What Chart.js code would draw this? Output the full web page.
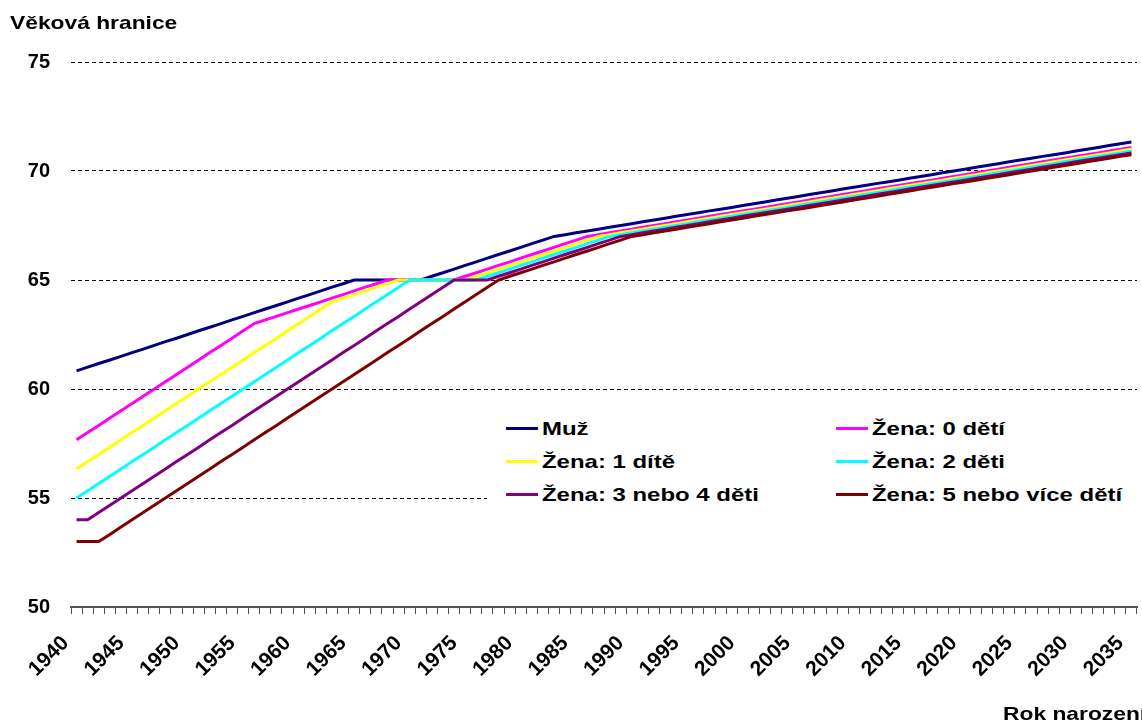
<!DOCTYPE html>
<html>
<head>
<meta charset="utf-8">
<script src="https://cdn.jsdelivr.net/npm/chart.js@4.4.1/dist/chart.umd.min.js"></script>
<style>
  html, body { margin: 0; padding: 0; background: #fff; overflow: hidden; }
  #obal { position: relative; width: 1142px; height: 722px; overflow: hidden; }
  #grafVek { position: absolute; left: 0; top: 0; }
  .popis { position: absolute; font-family: "Liberation Sans", Arial, sans-serif; font-weight: bold;
           font-size: 19px; line-height: 19px; color: #000; white-space: nowrap;
           transform-origin: left center; }
  #titulek { left: 10px; top: 13px; transform: scaleX(1.2); }
  #osaX { left: 1003px; top: 704px; transform: scaleX(1.2); }
  #legenda { position: absolute; left: 487px; top: 402px; width: 655px; height: 116px; background: #fff; }
  .car { position: absolute; height: 3px; width: 32px; }
</style>
</head>
<body>
<div id="obal">
  <canvas id="grafVek" width="1142" height="722"></canvas>
  <div id="titulek" class="popis">Věková hranice</div>
  <div id="osaX" class="popis">Rok narození</div>
  <div id="legenda"></div>
</div>
<script>
const roky = [
  1940, 1941, 1942, 1943, 1944, 1945, 1946, 1947, 1948, 1949,
  1950, 1951, 1952, 1953, 1954, 1955, 1956, 1957, 1958, 1959,
  1960, 1961, 1962, 1963, 1964, 1965, 1966, 1967, 1968, 1969,
  1970, 1971, 1972, 1973, 1974, 1975, 1976, 1977, 1978, 1979,
  1980, 1981, 1982, 1983, 1984, 1985, 1986, 1987, 1988, 1989,
  1990, 1991, 1992, 1993, 1994, 1995, 1996, 1997, 1998, 1999,
  2000, 2001, 2002, 2003, 2004, 2005, 2006, 2007, 2008, 2009,
  2010, 2011, 2012, 2013, 2014, 2015, 2016, 2017, 2018, 2019,
  2020, 2021, 2022, 2023, 2024, 2025, 2026, 2027, 2028, 2029,
  2030, 2031, 2032, 2033, 2034, 2035
];
const popiskyRoku = [1940, 1945, 1950, 1955, 1960, 1965, 1970, 1975, 1980, 1985,
  1990, 1995, 2000, 2005, 2010, 2015, 2020, 2025, 2030, 2035];
const hodnotyOsyY = [50, 55, 60, 65, 70, 75];

const nazvy = ["Muž", "Žena: 0 dětí", "Žena: 1 dítě", "Žena: 2 děti",
  "Žena: 3 nebo 4 děti", "Žena: 5 nebo více dětí"];

const muz = [
  60.83, 61.00, 61.17, 61.33, 61.50, 61.67, 61.83, 62.00, 62.17, 62.33,
  62.50, 62.67, 62.83, 63.00, 63.17, 63.33, 63.50, 63.67, 63.83, 64.00,
  64.17, 64.33, 64.50, 64.67, 64.83, 65.00, 65.00, 65.00, 65.00, 65.00,
  65.00, 65.00, 65.17, 65.33, 65.50, 65.67, 65.83, 66.00, 66.17, 66.33,
  66.50, 66.67, 66.83, 67.00, 67.08, 67.17, 67.25, 67.33, 67.42, 67.50,
  67.58, 67.67, 67.75, 67.83, 67.92, 68.00, 68.08, 68.17, 68.25, 68.33,
  68.42, 68.50, 68.58, 68.67, 68.75, 68.83, 68.92, 69.00, 69.08, 69.17,
  69.25, 69.33, 69.42, 69.50, 69.58, 69.67, 69.75, 69.83, 69.92, 70.00,
  70.08, 70.17, 70.25, 70.33, 70.42, 70.50, 70.58, 70.67, 70.75, 70.83,
  70.92, 71.00, 71.08, 71.17, 71.25, 71.33
];
const zena0 = [
  57.67, 58.00, 58.33, 58.67, 59.00, 59.33, 59.67, 60.00, 60.33, 60.67,
  61.00, 61.33, 61.67, 62.00, 62.33, 62.67, 63.00, 63.17, 63.33, 63.50,
  63.67, 63.83, 64.00, 64.17, 64.33, 64.50, 64.67, 64.83, 65.00, 65.00,
  65.00, 65.00, 65.00, 65.00, 65.00, 65.17, 65.33, 65.50, 65.67, 65.83,
  66.00, 66.17, 66.33, 66.50, 66.67, 66.83, 67.00, 67.08, 67.17, 67.25,
  67.33, 67.42, 67.50, 67.58, 67.67, 67.75, 67.83, 67.92, 68.00, 68.08,
  68.17, 68.25, 68.33, 68.42, 68.50, 68.58, 68.67, 68.75, 68.83, 68.92,
  69.00, 69.08, 69.17, 69.25, 69.33, 69.42, 69.50, 69.58, 69.67, 69.75,
  69.83, 69.92, 70.00, 70.08, 70.17, 70.25, 70.33, 70.42, 70.50, 70.58,
  70.67, 70.75, 70.83, 70.92, 71.00, 71.08
];
const zena1 = [
  56.33, 56.67, 57.00, 57.33, 57.67, 58.00, 58.33, 58.67, 59.00, 59.33,
  59.67, 60.00, 60.33, 60.67, 61.00, 61.33, 61.67, 62.00, 62.33, 62.67,
  63.00, 63.33, 63.67, 64.00, 64.17, 64.33, 64.50, 64.67, 64.83, 65.00,
  65.00, 65.00, 65.00, 65.00, 65.00, 65.00, 65.17, 65.33, 65.50, 65.67,
  65.83, 66.00, 66.17, 66.33, 66.50, 66.67, 66.83, 67.00, 67.08, 67.17,
  67.25, 67.33, 67.42, 67.50, 67.58, 67.67, 67.75, 67.83, 67.92, 68.00,
  68.08, 68.17, 68.25, 68.33, 68.42, 68.50, 68.58, 68.67, 68.75, 68.83,
  68.92, 69.00, 69.08, 69.17, 69.25, 69.33, 69.42, 69.50, 69.58, 69.67,
  69.75, 69.83, 69.92, 70.00, 70.08, 70.17, 70.25, 70.33, 70.42, 70.50,
  70.58, 70.67, 70.75, 70.83, 70.92, 71.00
];
const zena2 = [
  55.00, 55.33, 55.67, 56.00, 56.33, 56.67, 57.00, 57.33, 57.67, 58.00,
  58.33, 58.67, 59.00, 59.33, 59.67, 60.00, 60.33, 60.67, 61.00, 61.33,
  61.67, 62.00, 62.33, 62.67, 63.00, 63.33, 63.67, 64.00, 64.33, 64.67,
  65.00, 65.00, 65.00, 65.00, 65.00, 65.00, 65.00, 65.17, 65.33, 65.50,
  65.67, 65.83, 66.00, 66.17, 66.33, 66.50, 66.67, 66.83, 67.00, 67.08,
  67.17, 67.25, 67.33, 67.42, 67.50, 67.58, 67.67, 67.75, 67.83, 67.92,
  68.00, 68.08, 68.17, 68.25, 68.33, 68.42, 68.50, 68.58, 68.67, 68.75,
  68.83, 68.92, 69.00, 69.08, 69.17, 69.25, 69.33, 69.42, 69.50, 69.58,
  69.67, 69.75, 69.83, 69.92, 70.00, 70.08, 70.17, 70.25, 70.33, 70.42,
  70.50, 70.58, 70.67, 70.75, 70.83, 70.92
];
const zena34 = [
  54.00, 54.00, 54.33, 54.67, 55.00, 55.33, 55.67, 56.00, 56.33, 56.67,
  57.00, 57.33, 57.67, 58.00, 58.33, 58.67, 59.00, 59.33, 59.67, 60.00,
  60.33, 60.67, 61.00, 61.33, 61.67, 62.00, 62.33, 62.67, 63.00, 63.33,
  63.67, 64.00, 64.33, 64.67, 65.00, 65.00, 65.00, 65.00, 65.17, 65.33,
  65.50, 65.67, 65.83, 66.00, 66.17, 66.33, 66.50, 66.67, 66.83, 67.00,
  67.08, 67.17, 67.25, 67.33, 67.42, 67.50, 67.58, 67.67, 67.75, 67.83,
  67.92, 68.00, 68.08, 68.17, 68.25, 68.33, 68.42, 68.50, 68.58, 68.67,
  68.75, 68.83, 68.92, 69.00, 69.08, 69.17, 69.25, 69.33, 69.42, 69.50,
  69.58, 69.67, 69.75, 69.83, 69.92, 70.00, 70.08, 70.17, 70.25, 70.33,
  70.42, 70.50, 70.58, 70.67, 70.75, 70.83
];
const zena5 = [
  53.00, 53.00, 53.00, 53.33, 53.67, 54.00, 54.33, 54.67, 55.00, 55.33,
  55.67, 56.00, 56.33, 56.67, 57.00, 57.33, 57.67, 58.00, 58.33, 58.67,
  59.00, 59.33, 59.67, 60.00, 60.33, 60.67, 61.00, 61.33, 61.67, 62.00,
  62.33, 62.67, 63.00, 63.33, 63.67, 64.00, 64.33, 64.67, 65.00, 65.17,
  65.33, 65.50, 65.67, 65.83, 66.00, 66.17, 66.33, 66.50, 66.67, 66.83,
  67.00, 67.08, 67.17, 67.25, 67.33, 67.42, 67.50, 67.58, 67.67, 67.75,
  67.83, 67.92, 68.00, 68.08, 68.17, 68.25, 68.33, 68.42, 68.50, 68.58,
  68.67, 68.75, 68.83, 68.92, 69.00, 69.08, 69.17, 69.25, 69.33, 69.42,
  69.50, 69.58, 69.67, 69.75, 69.83, 69.92, 70.00, 70.08, 70.17, 70.25,
  70.33, 70.42, 70.50, 70.58, 70.67, 70.75
];

const barvy = ["#000080", "#ff00ff", "#ffff00", "#00ffff", "#800080", "#800000"];
const pismo = "'Liberation Sans', Arial, sans-serif";

function montaGraf(){
    var rady = [muz, zena0, zena1, zena2, zena34, zena5];

    var datasets = rady.map(function(hodnoty, i){
        return {
            label: nazvy[i],
            data: hodnoty,
            borderColor: barvy[i],
            backgroundColor: barvy[i],
            borderWidth: 3,
            pointRadius: 0,
            tension: 0,
            fill: false,
            // pozdejsi rada se kresli navrch, jako v Excelu
            order: rady.length - i
        };
    });

    var ctx = document.getElementById("grafVek");
    var grafVek = new Chart(ctx, {
        type: "line",
        data: {
            labels: roky,
            datasets: datasets
        },
        options: {
            responsive: false,
            devicePixelRatio: 1,
            animation: false,
            layout: {
                padding: { left: 0, right: 5, top: 62, bottom: 0 }
            },
            plugins: {
                legend: { display: false },
                tooltip: { enabled: false }
            },
            scales: {
                x: {
                    type: "category",
                    offset: true,
                    afterFit: function(s){
                        s.height = 115;
                        // otocene popisky nemaji posouvat plochu grafu
                        s.paddingLeft = 0;
                        s.paddingRight = 0;
                    },
                    grid: {
                        offset: true,
                        drawOnChartArea: false,
                        drawTicks: true,
                        tickLength: 7,
                        color: "#555",
                        lineWidth: 1
                    },
                    border: { display: true, color: "#555", width: 2 },
                    ticks: {
                        autoSkip: false,
                        maxRotation: 45,
                        minRotation: 45,
                        padding: 17,
                        labelOffset: -11,
                        color: "#000",
                        font: { family: pismo, size: 21, weight: "bold" },
                        callback: function(hodnota, index){
                            var rok = roky[index];
                            return popiskyRoku.indexOf(rok) >= 0 ? String(rok) : "";
                        }
                    }
                },
                y: {
                    min: 50,
                    max: 75,
                    afterFit: function(s){ s.width = 71; },
                    afterBuildTicks: function(s){
                        s.ticks = hodnotyOsyY.map(function(v){ return { value: v }; });
                    },
                    grid: {
                        drawTicks: false,
                        lineWidth: 1,
                        color: function(c){
                            return c.tick && c.tick.value === 50 ? "rgba(0,0,0,0)" : "#000";
                        }
                    },
                    border: { display: false, dash: [4, 3] },
                    ticks: {
                        padding: 21,
                        color: "#000",
                        font: { family: pismo, size: 20, weight: "bold" }
                    }
                }
            }
        }
    });

    montaLegendu(grafVek);
}

function montaLegendu(graf){
    var box = document.getElementById("legenda");
    var sloupce = [506 - 487, 836 - 487];
    var radky = [428 - 402, 461 - 402, 494 - 402];

    graf.data.datasets.forEach(function(ds, i){
        var x = sloupce[i % 2];
        var y = radky[Math.floor(i / 2)];

        var car = document.createElement("div");
        car.className = "car";
        car.style.left = x + "px";
        car.style.top = (y - 1.5) + "px";
        car.style.background = ds.borderColor;
        box.appendChild(car);

        var txt = document.createElement("div");
        txt.className = "popis";
        txt.style.left = (x + 36) + "px";
        txt.style.top = (y - 9.3) + "px";
        txt.style.transform = "scaleX(1.26)";
        txt.textContent = ds.label;
        box.appendChild(txt);
    });
}

montaGraf();
</script>
</body>
</html>
